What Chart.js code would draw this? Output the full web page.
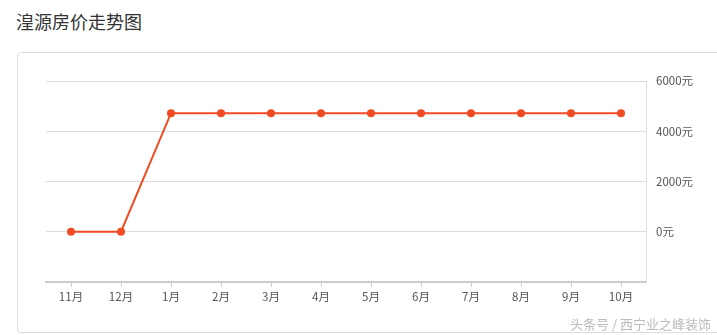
<!DOCTYPE html>
<html>
<head>
<meta charset="utf-8">
<script src="https://cdn.jsdelivr.net/npm/chart.js@4/dist/chart.umd.min.js"></script>
<style>
  html, body { margin: 0; padding: 0; background: #fff; }
  body { width: 717px; height: 335px; position: relative; overflow: hidden; font-family: "Noto Sans CJK SC", "Noto Sans", sans-serif; }
  .title { position: absolute; left: 16px; top: 8px; font-size: 18px; color: #333; }
  .box { position: absolute; left: 17px; top: 52px; width: 720px; height: 279px; border: 1px solid #ddd; border-radius: 4px; }
  .mark { position: absolute; right: 6px; top: 314px; font-size: 13px; color: #bbb; }
  canvas { position: absolute; left: 0; top: 0; }
</style>
</head>
<body>
<div class="title">湟源房价走势图</div>
<div class="box"></div>
<canvas id="chart-price" width="717" height="335"></canvas>
<div class="mark">头条号 / 西宁业之峰装饰</div>
<script>
const months = ['11月', '12月', '1月', '2月', '3月', '4月', '5月', '6月', '7月', '8月', '9月', '10月']
const prices = [0, 0, 4720, 4720, 4720, 4720, 4720, 4720, 4720, 4720, 4720, 4720]
const yMin = -2000
const yMax = 6000
const yStep = 2000

const lineColor = '#f04b22'
const font = { family: '"Noto Sans CJK SC", "Noto Sans", sans-serif', size: 11.5 }

const ctx = document.getElementById('chart-price').getContext('2d')
new Chart(ctx, {
  type: 'line',
  data: {
    labels: months,
    datasets: [{
      data: prices,
      borderColor: lineColor,
      backgroundColor: lineColor,
      borderWidth: 2,
      pointRadius: 4,
      pointBackgroundColor: lineColor,
      pointBorderWidth: 0,
      tension: 0
    }]
  },
  options: {
    responsive: false,
    animation: false,
    layout: { padding: { left: 46, top: 81, right: 0, bottom: 0 } },
    plugins: { legend: { display: false }, tooltip: { enabled: false } },
    scales: {
      x: {
        offset: true,
        grid: { offset: false, drawOnChartArea: false, tickLength: 5, color: '#ccc' },
        border: { color: '#ccc', width: 2 },
        ticks: { color: '#555', font, padding: 3, maxRotation: 0 },
        afterFit: s => { s.height = 53 }
      },
      y: {
        position: 'right',
        min: yMin,
        max: yMax,
        grid: { color: '#ddd', drawTicks: false },
        border: { color: '#ddd', width: 1 },
        ticks: {
          stepSize: yStep,
          color: '#555',
          font,
          padding: 10,
          callback: v => v < 0 ? '' : v + '元'
        },
        afterFit: s => { s.width = 71 }
      }
    }
  }
})
</script>
</body>
</html>
